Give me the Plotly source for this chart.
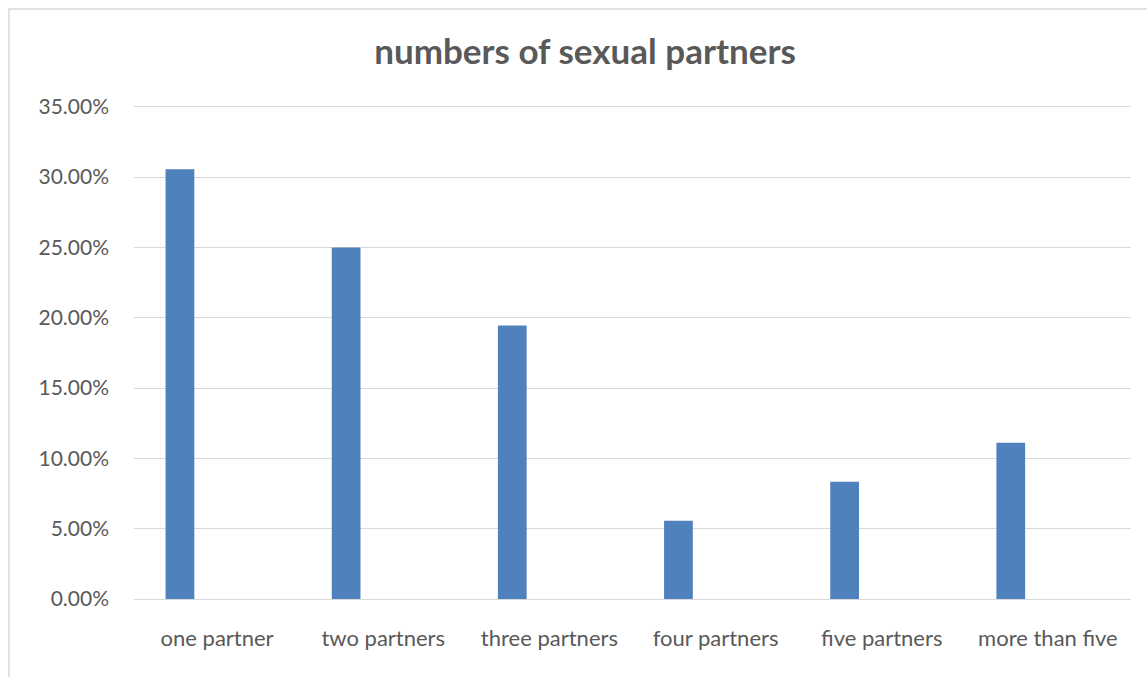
import plotly.graph_objects as go

categories = ["one partner", "two partners", "three partners", "four partners", "five partners", "more than five"]
values = [0.3056, 0.25, 0.1944, 0.0556, 0.0833, 0.1111]
title_text = "numbers of sexual partners"

W, H = 1147, 677
L, R, T, B = 134, 16, 104, 78
pw = W - L - R
ph = H - T - B
ymax = 0.352

fig = go.Figure()
fig.add_trace(go.Bar(
    x=categories, y=values,
    marker=dict(color="#4F81BD", line=dict(width=0)),
    width=0.173, offset=-0.31,
    hoverinfo="x+y",
))

font_family = "Lato, 'Open Sans', sans-serif"
fig.update_layout(
    width=W, height=H,
    margin=dict(l=L, r=R, t=T, b=B),
    paper_bgcolor="white", plot_bgcolor="white",
    showlegend=False,
    title=dict(text="<b>" + title_text + "</b>", x=585 / W, xref="container", xanchor="center",
               y=1 - 52 / H, yref="container", yanchor="middle",
               font=dict(family=font_family, size=35, color="#595959")),
    font=dict(family=font_family, color="#595959"),
)
fig.update_yaxes(range=[0, ymax], tickvals=[0, 0.05, 0.10, 0.15, 0.20, 0.25, 0.30, 0.35],
                 tickformat=".2%",
                 showgrid=True, gridcolor="#D9D9D9", gridwidth=1,
                 zeroline=False, showline=False, ticks="",
                 tickfont=dict(size=21, color="#595959"), ticklabelstandoff=24)
fig.update_xaxes(showline=True, linecolor="#D9D9D9", linewidth=1, ticks="",
                 showgrid=False,
                 tickfont=dict(size=22, color="#595959"), ticklabelstandoff=20)

# chart border (Excel chart area frame)
fig.add_shape(type="rect", xref="paper", yref="paper",
              x0=(9 - L) / pw, x1=(W + 20 - L) / pw,
              y0=-(B + 20) / ph, y1=(H - 9 - B) / ph,
              line=dict(color="#D9D9D9", width=1.5), fillcolor="rgba(0,0,0,0)", layer="below")

fig.write_html("out.html")
